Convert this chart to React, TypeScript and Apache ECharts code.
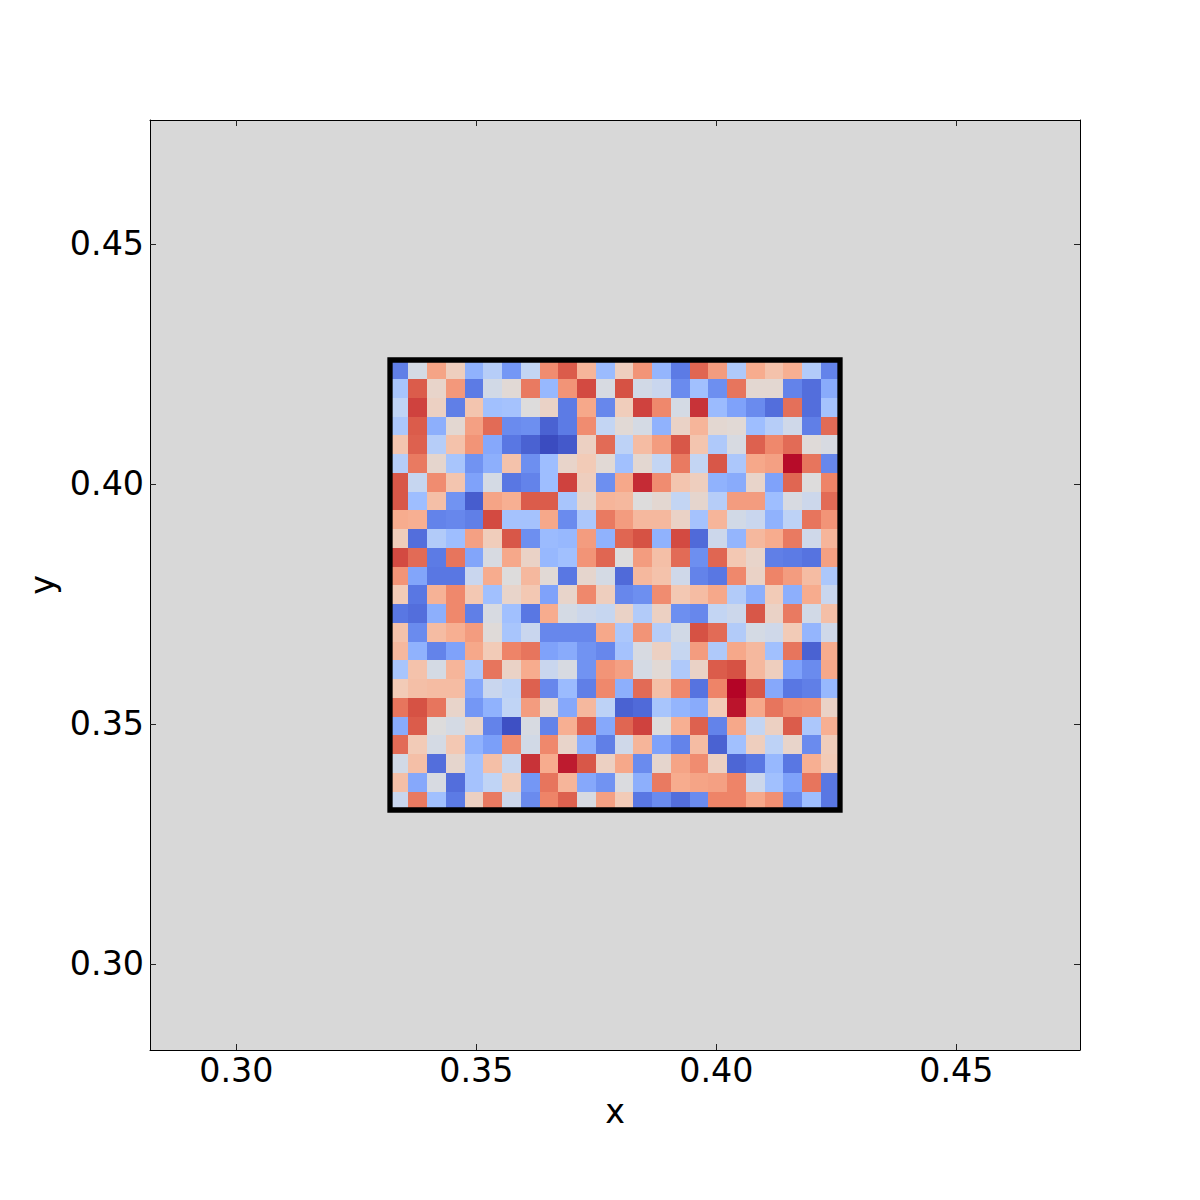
import React, { useEffect, useRef } from "react";
import * as echarts from "echarts";

const xRange = [0.28202, 0.47577];
const yRange = [0.28208, 0.47583];
const xExtent = [0.33202, 0.42577];
const yExtent = [0.33208, 0.42583];
const tickValues = [0.3, 0.35, 0.4, 0.45];
const coolwarm = ["#3b4cc0", "#5977e3", "#7b9ff9", "#9ebeff", "#c0d4f5", "#dddcdc", "#f2cbb7", "#f7ac8e", "#ee8468", "#d65244", "#b40426"];

// rows run from the top of the image to the bottom
const cellRows: number[][] = [
  [.12,.47,.72,.58,.26,.37,.18,.41,.78,.88,.67,.29,.58,.76,.27,.11,.86,.74,.35,.7,.63,.69,.36,.13],
  [.33,.88,.55,.75,.11,.46,.52,.82,.28,.76,.91,.48,.9,.46,.43,.15,.31,.16,.83,.53,.53,.13,.08,.24],
  [.4,.92,.57,.12,.62,.31,.32,.5,.56,.11,.71,.14,.59,.92,.79,.47,.94,.29,.21,.15,.08,.84,.08,.32],
  [.34,.88,.25,.53,.73,.85,.15,.16,.05,.11,.78,.41,.52,.47,.26,.56,.67,.53,.52,.3,.37,.45,.12,.85],
  [.62,.87,.37,.63,.76,.23,.1,.05,0,.03,.57,.85,.39,.65,.74,.89,.62,.35,.48,.87,.79,.85,.51,.48],
  [.37,.82,.54,.33,.17,.25,.63,.16,.3,.55,.6,.52,.31,.53,.41,.82,.41,.89,.34,.71,.73,.99,.83,.14],
  [.89,.42,.78,.62,.21,.47,.1,.13,.3,.92,.58,.16,.71,.95,.78,.62,.58,.26,.24,.55,.21,.86,.5,.8],
  [.89,.3,.64,.17,.04,.72,.69,.88,.88,.33,.54,.67,.66,.5,.53,.41,.54,.37,.74,.74,.3,.48,.44,.85],
  [.7,.69,.13,.14,.12,.91,.32,.32,.71,.15,.34,.82,.74,.66,.66,.56,.32,.67,.46,.43,.26,.39,.83,.76],
  [.59,.08,.36,.3,.73,.59,.89,.16,.29,.28,.74,.26,.86,.9,.26,.91,.07,.44,.27,.66,.7,.82,.45,.67],
  [.91,.85,.11,.83,.22,.48,.71,.56,.28,.31,.76,.86,.5,.74,.64,.85,.16,.86,.61,.55,.12,.11,.09,.73],
  [.76,.22,.1,.1,.43,.7,.5,.66,.52,.1,.54,.47,.07,.66,.63,.45,.13,.1,.79,.56,.8,.74,.65,.34],
  [.6,.1,.68,.79,.61,.31,.55,.61,.21,.55,.79,.58,.14,.16,.78,.61,.65,.71,.36,.25,.6,.25,.7,.43],
  [.1,.08,.25,.79,.12,.48,.31,.1,.7,.47,.44,.42,.56,.36,.57,.16,.14,.41,.44,.89,.56,.82,.46,.64],
  [.63,.15,.65,.69,.74,.51,.33,.43,.14,.14,.14,.71,.34,.76,.37,.46,.9,.85,.36,.47,.45,.6,.27,.45],
  [.66,.26,.13,.21,.71,.6,.8,.83,.21,.24,.17,.14,.32,.48,.57,.42,.74,.35,.71,.66,.31,.83,.05,.7],
  [.33,.63,.47,.67,.34,.83,.56,.7,.43,.48,.17,.76,.73,.47,.52,.35,.56,.88,.9,.66,.58,.21,.15,.71],
  [.6,.64,.65,.65,.23,.43,.39,.87,.14,.29,.12,.79,.25,.85,.64,.79,.09,.8,1,.89,.23,.1,.12,.28],
  [.83,.9,.83,.55,.18,.26,.4,.74,.54,.23,.66,.39,.05,.07,.33,.27,.24,.6,.98,.71,.83,.78,.77,.56],
  [.24,.88,.5,.47,.55,.13,.01,.48,.13,.69,.87,.23,.86,.92,.5,.69,.87,.13,.71,.41,.57,.88,.34,.69],
  [.85,.6,.47,.61,.26,.2,.78,.46,.79,.55,.25,.12,.45,.67,.21,.13,.65,.05,.31,.58,.39,.55,.15,.59],
  [.46,.64,.08,.54,.32,.64,.42,.94,.7,.97,.89,.57,.71,.15,.54,.72,.78,.57,.06,.1,.28,.1,.69,.6],
  [.64,.23,.48,.08,.32,.4,.6,.18,.83,.67,.23,.17,.49,.25,.82,.7,.72,.73,.8,.44,.31,.21,.83,.1],
  [.43,.82,.31,.11,.57,.82,.44,.15,.8,.87,.48,.73,.6,.1,.15,.08,.15,.8,.8,.71,.77,.15,.3,.1],
];

const cellData = cellRows.flatMap((row, r) => row.map((v, c) => [c, r, v]));
const outline = [
  [xExtent[0], yExtent[0]],
  [xExtent[1], yExtent[0]],
  [xExtent[1], yExtent[1]],
  [xExtent[0], yExtent[1]],
  [xExtent[0], yExtent[0]],
];

const FONT = "DejaVu Sans";
const FS = 33.3;

const baseAxis = (range: number[]) => ({
  type: "value" as const,
  min: range[0],
  max: range[1],
  splitLine: { show: false },
  axisLine: { show: true, onZero: false, lineStyle: { color: "#000", width: 1 } },
  axisTick: { show: true, inside: true, length: 6, customValues: tickValues, lineStyle: { color: "#222", width: 1 } },
});

export default function App() {
  const ref = useRef<HTMLDivElement>(null);
  useEffect(() => {
    const chart = echarts.init(ref.current!, null, { renderer: "svg" });
    const nCols = cellRows[0].length;
    const nRows = cellRows.length;
    const cw = (xExtent[1] - xExtent[0]) / nCols;
    const ch = (yExtent[1] - yExtent[0]) / nRows;
    const label = {
      show: true,
      customValues: tickValues,
      formatter: (v: number) => v.toFixed(2),
      fontFamily: FONT,
      fontSize: FS,
      color: "#000",
    };
    chart.setOption({
      animation: false,
      backgroundColor: "#fff",
      grid: { left: 150, top: 120, width: 930, height: 930, show: true, backgroundColor: "#d8d8d8", borderWidth: 0, containLabel: false },
      xAxis: [
        {
          ...baseAxis(xRange),
          position: "bottom",
          axisLabel: { ...label, margin: 4 },
          name: "x",
          nameLocation: "middle",
          nameGap: 45,
          nameTextStyle: { fontFamily: FONT, fontSize: FS, color: "#000" },
        },
        { ...baseAxis(xRange), position: "top", axisLabel: { show: false } },
      ],
      yAxis: [
        {
          ...baseAxis(yRange),
          position: "left",
          axisLabel: { ...label, margin: 6 },
          name: "y",
          nameLocation: "middle",
          nameGap: 85,
          nameRotate: 90,
          nameTextStyle: { fontFamily: FONT, fontSize: FS, color: "#000" },
        },
        { ...baseAxis(yRange), position: "right", axisLabel: { show: false } },
      ],
      visualMap: { show: false, type: "continuous", min: 0, max: 1, dimension: 2, seriesIndex: 0, inRange: { color: coolwarm } },
      series: [
        {
          type: "custom",
          xAxisIndex: 0,
          yAxisIndex: 0,
          data: cellData,
          silent: true,
          z: 2,
          encode: { x: 0, y: 1 },
          renderItem: (_: any, api: any) => {
            const c = api.value(0);
            const r = api.value(1);
            const a = api.coord([xExtent[0] + c * cw, yExtent[1] - r * ch]);
            const b = api.coord([xExtent[0] + (c + 1) * cw, yExtent[1] - (r + 1) * ch]);
            const x0 = Math.floor(a[0] + 0.01);
            const x1 = Math.floor(b[0] + 0.01);
            const y0 = Math.ceil(a[1] - 0.01);
            const y1 = Math.ceil(b[1] - 0.01);
            return {
              type: "rect",
              shape: { x: x0, y: y0, width: x1 - x0, height: y1 - y0 },
              style: { fill: api.visual("color"), stroke: null },
            };
          },
        },
        {
          type: "line",
          xAxisIndex: 0,
          yAxisIndex: 0,
          data: outline,
          showSymbol: false,
          symbol: "none",
          silent: true,
          z: 3,
          lineStyle: { color: "#000", width: 5.3, join: "miter", cap: "square" },
        },
      ],
    });
    return () => chart.dispose();
  }, []);
  return <div ref={ref} style={{ position: "absolute", left: 0, top: 0, width: 1200, height: 1200 }} />;
}
